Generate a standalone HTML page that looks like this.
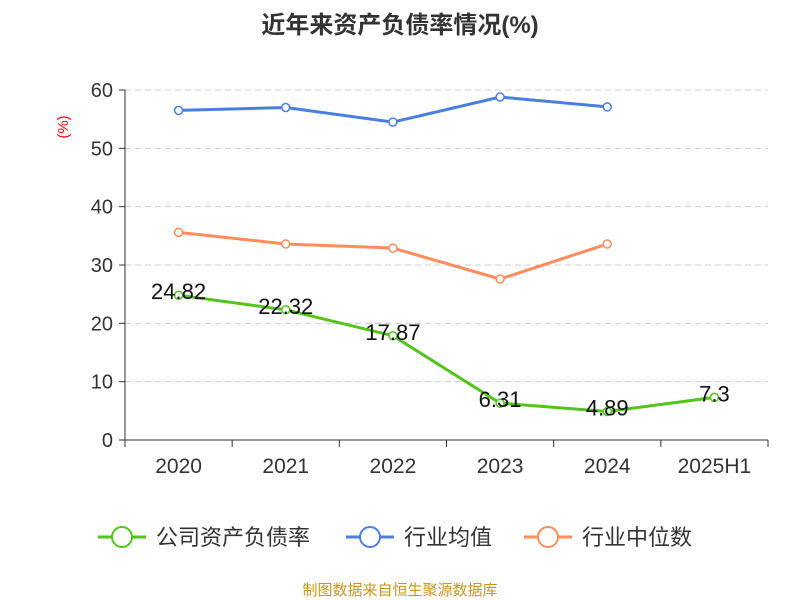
<!DOCTYPE html>
<html><head><meta charset="utf-8"><style>
body{margin:0;background:#fff;}
svg{display:block;font-family:"Liberation Sans","Noto Sans CJK SC",sans-serif;}
</style></head><body>
<svg id="chart" width="800" height="600">
<text x="400" y="33" text-anchor="middle" font-size="24" font-weight="bold" fill="#333">近年来资产负债率情况(%)</text>
<text x="68" y="127" text-anchor="middle" font-size="15" fill="#e00" transform="rotate(-90 68 127)">(%)</text>
<g id="grid"></g><g id="axes"></g><g id="series"></g>
<g>
<g><line x1="98" y1="537" x2="146" y2="537" stroke="#52c41a" stroke-width="3"/><circle cx="122" cy="537" r="10" fill="#fff" stroke="#52c41a" stroke-width="2"/><text x="156" y="545" font-size="22" fill="#333">公司资产负债率</text></g>
<g><line x1="346" y1="537" x2="394" y2="537" stroke="#4a7fe0" stroke-width="3"/><circle cx="370" cy="537" r="10" fill="#fff" stroke="#4a7fe0" stroke-width="2"/><text x="404" y="545" font-size="22" fill="#333">行业均值</text></g>
<g><line x1="524" y1="537" x2="572" y2="537" stroke="#ff8c5a" stroke-width="3"/><circle cx="548" cy="537" r="10" fill="#fff" stroke="#ff8c5a" stroke-width="2"/><text x="582" y="545" font-size="22" fill="#333">行业中位数</text></g>
</g>
<text x="400" y="595" text-anchor="middle" font-size="15" fill="#c8961e">制图数据来自恒生聚源数据库</text>
</svg>
<script>
const categories=["2020","2021","2022","2023","2024","2025H1"];
const companyValues=[24.82,22.32,17.87,6.31,4.89,7.3];
const companyLabels=["24.82","22.32","17.87","6.31","4.89","7.3"];
const avgValues=[56.5,57.0,54.5,58.8,57.1];
const medianValues=[35.6,33.6,32.9,27.6,33.6];
const yTicks=[0,10,20,30,40,50,60];
const NS="http://www.w3.org/2000/svg";
const L=125,R=768,T=90,B=440,yMax=60;
const bw=(R-L)/categories.length;
const xs=i=>L+bw*(i+0.5);
const ys=v=>B-(v/yMax)*(B-T);
function mk(tag,attrs,parent){const e=document.createElementNS(NS,tag);for(const k in attrs)e.setAttribute(k,attrs[k]);parent.appendChild(e);return e;}
const grid=document.getElementById('grid'),axes=document.getElementById('axes'),ser=document.getElementById('series');
yTicks.forEach(t=>{
 if(t>0){const g=mk('line',{x1:L,x2:R,y1:ys(t),y2:ys(t),stroke:'#ccc','stroke-dasharray':'6,4'},grid);
 
 }
 const tk=mk('line',{x1:L-6,x2:L,y1:ys(t),y2:ys(t),stroke:'#333'},axes);
 
 
 const tx=mk('text',{x:L-12,y:ys(t)+7,'text-anchor':'end','font-size':20,fill:'#333'},axes);tx.textContent=t;
 
 
});
const ya=mk('line',{x1:L,x2:L,y1:T,y2:B,stroke:'#333'},axes);


const xa=mk('line',{x1:L,x2:R,y1:B,y2:B,stroke:'#333'},axes);


for(let i=0;i<=categories.length;i++){const t=mk('line',{x1:L+bw*i,x2:L+bw*i,y1:B,y2:B+7,stroke:'#333'},axes);
 
 }
categories.forEach((c,i)=>{const t=mk('text',{x:xs(i),y:B+33,'text-anchor':'middle','font-size':21,fill:'#333'},axes);t.textContent=c;
 
 });
function series(vals,color,name){
 const p=mk('polyline',{points:vals.map((v,i)=>xs(i)+','+ys(v)).join(' '),fill:'none',stroke:color,'stroke-width':3},ser);
 
 
 vals.forEach((v,i)=>{const c=mk('circle',{cx:xs(i),cy:ys(v),r:4,fill:'#fff',stroke:color,'stroke-width':1.5},ser);
  
  });
}
series(avgValues,'#4a7fe0','industry-avg');
series(medianValues,'#ff8c5a','industry-median');
series(companyValues,'#52c41a','company');
companyValues.forEach((v,i)=>{const t=mk('text',{x:xs(i),y:ys(v)+4,'text-anchor':'middle','font-size':22,fill:'#111'},ser);t.textContent=companyLabels[i];
 
 });
</script>
</body></html>
